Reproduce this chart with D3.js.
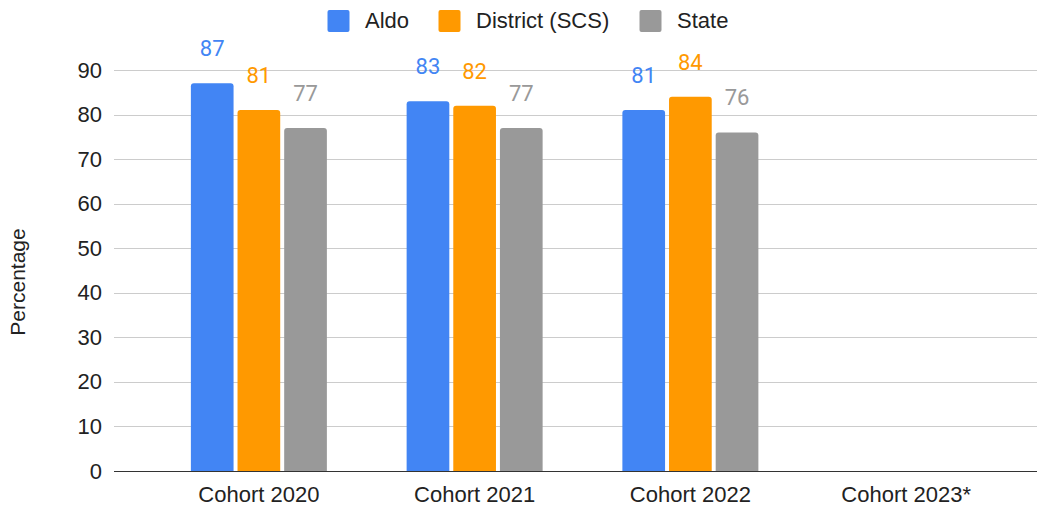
<!DOCTYPE html>
<html><head><meta charset="utf-8">
<script src="https://cdn.jsdelivr.net/npm/d3@7"></script>
<style>body{margin:0;background:#fff}svg{display:block}</style>
</head><body><svg id="c" width="1039" height="510"></svg>
<script>
const categories = ["Cohort 2020","Cohort 2021","Cohort 2022","Cohort 2023*"];
const seriesNames = ["Aldo","District (SCS)","State"];
const aldo = [87,83,81,null];
const district = [81,82,84,null];
const state = [77,77,76,null];
const yTicks = [0,10,20,30,40,50,60,70,80,90];
const colors = ["#4285F4","#FF9900","#999999"];
const series = [aldo, district, state];

const svg = d3.select("#c");
const plotL = 114, plotR = 1037;
const FONT = "Liberation Sans, Arial, sans-serif";
const y = d3.scaleLinear().domain([0,90]).range([471,70]);
const x = d3.scaleBand().domain(categories).range([151,1014]).paddingInner(0).paddingOuter(0);
const groupW = 136;
const xs = d3.scaleBand().domain(d3.range(3)).range([0,groupW]).paddingInner(0.085).paddingOuter(0);

// gridlines + y ticks
const gAxis = svg.append("g").attr("transform",`translate(${plotL},0)`)
  .call(d3.axisLeft(y).tickValues(yTicks).tickSize(-(plotR-plotL)).tickPadding(12));
gAxis.select(".domain").remove();
gAxis.selectAll(".tick line").attr("stroke","#cccccc").attr("stroke-width",1).attr("shape-rendering","crispEdges");
gAxis.selectAll(".tick text").attr("fill","#222").attr("font-family",FONT).attr("font-size",22);

// bars
const radius = 3;
function barPath(x0,y0,w,h,r){
  return `M${x0},${y0+h}V${y0+r}Q${x0},${y0} ${x0+r},${y0}H${x0+w-r}Q${x0+w},${y0} ${x0+w},${y0+r}V${y0+h}Z`;
}
series.forEach((vals,si)=>{
  const g = svg.append("g");
  categories.forEach((c,ci)=>{
    const v = vals[ci];
    if(v==null) return;
    const gx = x(c) + x.bandwidth()/2 - groupW/2 + xs(si);
    const top = y(v);
    g.append("path").attr("d",barPath(gx,top,xs.bandwidth(),y(0)-top,radius)).attr("fill",colors[si]);
    g.append("text").attr("x",gx+xs.bandwidth()/2).attr("y",top-27)
      .attr("text-anchor","middle").attr("fill",colors[si])
      .attr("font-family","Roboto, sans-serif").attr("font-size",22).text(v);
  });
});

// baseline
svg.append("line").attr("x1",plotL).attr("x2",plotR).attr("y1",y(0)+0.5).attr("y2",y(0)+0.5).attr("stroke","#333").attr("stroke-width",1);

// x axis labels
const gx = svg.append("g").attr("transform",`translate(0,${y(0)})`).call(d3.axisBottom(x).tickSize(0).tickPadding(15));
gx.select(".domain").remove();
gx.selectAll(".tick text").attr("fill","#222").attr("font-family",FONT).attr("font-size",22);

// y title
svg.append("text").attr("transform","translate(25,282) rotate(-90)").attr("text-anchor","middle")
  .attr("font-family",FONT).attr("font-size",21).attr("fill","#222").text("Percentage");

// legend
const legX = [327.5,438.5,639.5];
const leg = svg.append("g");
seriesNames.forEach((n,i)=>{
  leg.append("rect").attr("x",legX[i]).attr("y",10).attr("width",22).attr("height",22).attr("rx",2).attr("fill",colors[i]);
  leg.append("text").attr("x",legX[i]+37.5).attr("y",28).attr("font-family",FONT)
    .attr("font-size",22).attr("fill","#222").text(n);
});
</script></body></html>
